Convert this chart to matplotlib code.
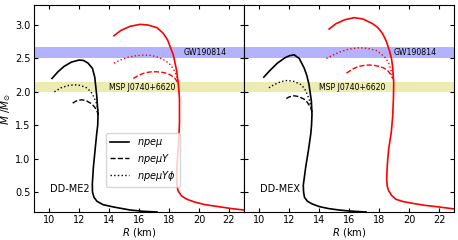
import matplotlib
matplotlib.use("Agg")
import matplotlib.pyplot as plt

# DD-ME2 curves (R in km, M in Msun)
me2_npemu_R = [10.2, 10.6, 11.0, 11.5, 12.0, 12.3, 12.6, 12.9, 13.05, 13.18, 13.27, 13.25, 13.18, 13.07, 12.96, 12.89, 12.9, 13.0, 13.2, 13.6, 14.3, 15.4, 16.3, 17.2]
me2_npemu_M = [2.20, 2.30, 2.38, 2.445, 2.475, 2.47, 2.43, 2.35, 2.22, 1.95, 1.67, 1.50, 1.37, 1.12, 0.87, 0.62, 0.50, 0.42, 0.36, 0.31, 0.275, 0.23, 0.21, 0.20]
me2_npemuY_R = [11.58, 11.8, 12.0, 12.2, 12.5, 12.84, 13.05, 13.22, 13.3]
me2_npemuY_M = [1.83, 1.86, 1.875, 1.88, 1.865, 1.82, 1.77, 1.70, 1.65]
me2_npemuYphi_R = [10.36, 10.8, 11.3, 11.73, 12.1, 12.51, 12.8, 13.0, 13.18, 13.29]
me2_npemuYphi_M = [2.00, 2.06, 2.095, 2.105, 2.095, 2.06, 2.0, 1.92, 1.82, 1.68]

me2_red_R = [14.33, 14.8, 15.4, 16.07, 16.6, 17.2, 17.6, 17.9, 18.29, 18.5, 18.62, 18.7, 18.7, 18.65, 18.56, 18.51, 18.53, 18.6, 18.84, 19.2, 19.7, 20.4, 21.3, 22.2, 23.0]
me2_red_M = [2.84, 2.92, 2.98, 3.01, 3.0, 2.96, 2.88, 2.78, 2.55, 2.33, 2.12, 1.9, 1.55, 1.25, 1.0, 0.75, 0.60, 0.52, 0.44, 0.39, 0.35, 0.31, 0.28, 0.25, 0.23]
me2_redY_R = [15.62, 16.0, 16.4, 16.84, 17.2, 17.6, 17.95, 18.18, 18.4, 18.58]
me2_redY_M = [2.20, 2.25, 2.285, 2.30, 2.30, 2.29, 2.27, 2.24, 2.20, 2.14]
me2_redYphi_R = [14.33, 14.8, 15.3, 15.8, 16.29, 16.8, 17.4, 17.8, 18.07, 18.3, 18.51, 18.62]
me2_redYphi_M = [2.43, 2.48, 2.52, 2.54, 2.55, 2.545, 2.51, 2.46, 2.41, 2.34, 2.24, 2.14]

# DD-MEX curves
mex_npemu_R = [10.29, 10.7, 11.2, 11.7, 12.0, 12.3, 12.65, 12.97, 13.15, 13.3, 13.46, 13.5, 13.47, 13.42, 13.26, 13.08, 12.92, 12.94, 13.0, 13.2, 13.52, 14.0, 14.64, 15.3, 15.98, 17.1]
mex_npemu_M = [2.22, 2.32, 2.43, 2.51, 2.54, 2.555, 2.50, 2.36, 2.25, 2.11, 1.86, 1.66, 1.50, 1.37, 1.12, 0.87, 0.60, 0.50, 0.42, 0.36, 0.32, 0.28, 0.25, 0.23, 0.215, 0.20]
mex_npemuY_R = [11.79, 12.0, 12.3, 12.6, 12.97, 13.2, 13.42, 13.5]
mex_npemuY_M = [1.90, 1.925, 1.94, 1.93, 1.89, 1.84, 1.76, 1.70]
mex_npemuYphi_R = [10.63, 11.0, 11.4, 11.85, 12.3, 12.75, 13.0, 13.19, 13.35, 13.46, 13.5]
mex_npemuYphi_M = [2.06, 2.11, 2.15, 2.17, 2.155, 2.11, 2.05, 1.96, 1.86, 1.76, 1.70]

mex_red_R = [14.64, 15.1, 15.7, 16.32, 16.9, 17.54, 17.9, 18.21, 18.45, 18.66, 18.8, 18.88, 18.95, 18.93, 18.88, 18.78, 18.61, 18.52, 18.48, 18.52, 18.61, 18.8, 19.1, 19.6, 20.2, 21.0, 21.8, 23.0]
mex_red_M = [2.94, 3.02, 3.08, 3.11, 3.09, 3.02, 2.96, 2.87, 2.76, 2.62, 2.50, 2.37, 2.13, 1.90, 1.63, 1.38, 1.14, 0.90, 0.69, 0.58, 0.52, 0.45, 0.39, 0.355, 0.33, 0.30, 0.28, 0.245]
mex_redY_R = [15.8, 16.2, 16.6, 17.1, 17.55, 17.99, 18.3, 18.54, 18.75, 18.88]
mex_redY_M = [2.28, 2.34, 2.38, 2.40, 2.40, 2.38, 2.355, 2.32, 2.26, 2.20]
mex_redYphi_R = [14.46, 14.9, 15.4, 15.9, 16.3, 16.65, 17.2, 17.77, 18.1, 18.44, 18.65, 18.8, 18.88]
mex_redYphi_M = [2.50, 2.55, 2.60, 2.635, 2.65, 2.66, 2.65, 2.62, 2.57, 2.50, 2.41, 2.30, 2.20]

gw_band = (2.50, 2.67)
msp_band = (2.00, 2.14)
legend_labels = [r"$npe\mu$", r"$npe\mu Y$", r"$npe\mu Y\phi$"]

fig = plt.figure(figsize=(4.58, 2.40), dpi=100)
ax1 = fig.add_axes([0.0742, 0.1167, 0.4585, 0.8625])
ax2 = fig.add_axes([0.5338, 0.1167, 0.4585, 0.8625], sharey=ax1)

panels = [
    (ax1, "DD-ME2",
     [(me2_npemu_R, me2_npemu_M), (me2_npemuY_R, me2_npemuY_M), (me2_npemuYphi_R, me2_npemuYphi_M)],
     [(me2_red_R, me2_red_M), (me2_redY_R, me2_redY_M), (me2_redYphi_R, me2_redYphi_M)]),
    (ax2, "DD-MEX",
     [(mex_npemu_R, mex_npemu_M), (mex_npemuY_R, mex_npemuY_M), (mex_npemuYphi_R, mex_npemuYphi_M)],
     [(mex_red_R, mex_red_M), (mex_redY_R, mex_redY_M), (mex_redYphi_R, mex_redYphi_M)]),
]
styles = ["-", "--", ":"]
widths = [1.2, 1.0, 1.0]

for ax, name, black, red in panels:
    ax.axhspan(gw_band[0], gw_band[1], color="blue", alpha=0.3, lw=0)
    ax.axhspan(msp_band[0], msp_band[1], color="y", alpha=0.3, lw=0)
    for (r, m), ls, lw, lab in zip(black, styles, widths, legend_labels):
        ax.plot(r, m, color="black", ls=ls, lw=lw, label=lab)
    for (r, m), ls, lw in zip(red, styles, widths):
        ax.plot(r, m, color="red", ls=ls, lw=lw)
    ax.text(20.4, 2.585, "GW190814", fontsize=5.6, ha="center", va="center")
    ax.text(16.2, 2.07, "MSP J0740+6620", fontsize=5.6, ha="center", va="center")
    ax.text(10.05, 0.54, name, fontsize=7, ha="left", va="center")
    ax.set_xlim(9, 23)
    ax.set_ylim(0.2, 3.3)
    ax.set_xticks([10, 12, 14, 16, 18, 20, 22])
    ax.set_yticks([0.5, 1.0, 1.5, 2.0, 2.5, 3.0])
    ax.tick_params(direction="in", top=True, right=True, labelsize=7, length=3, pad=2.5)
    ax.set_xlabel(r"$R$ (km)", fontsize=7.2, labelpad=0.5)

ax1.set_ylabel(r"$M\ /M_{\odot}$", fontsize=7.5)
ax1.yaxis.set_label_coords(-0.102, 0.5)
plt.setp(ax2.get_yticklabels(), visible=False)
ax1.legend(loc="upper left", bbox_to_anchor=(0.32, 0.405), fontsize=7,
           handlelength=2.0, borderpad=0.4, labelspacing=0.3, handletextpad=0.8)

fig.savefig("out.png", dpi=100)
